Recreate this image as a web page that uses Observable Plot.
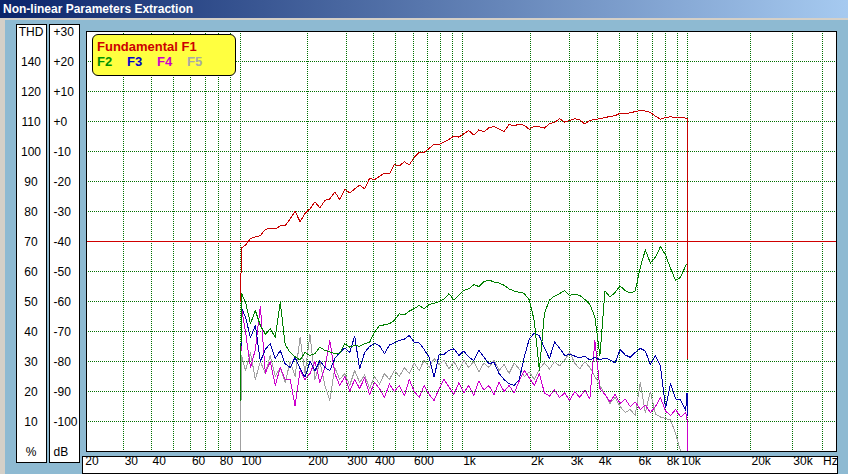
<!DOCTYPE html>
<html>
<head>
<meta charset="utf-8">
<script src="https://cdn.jsdelivr.net/npm/d3@7"></script>
<script src="https://cdn.jsdelivr.net/npm/@observablehq/plot@0.6"></script>
<style>
  body { margin: 0; }
  #win { position: relative; width: 848px; height: 474px; background: #8EBAD2; overflow: hidden; font-family: "Liberation Sans", Arial, sans-serif; }
  #title { position: absolute; left: 0; top: 0; width: 848px; height: 18px; line-height: 18px; padding-left: 3px; box-sizing: border-box;
    background: linear-gradient(to right, #0A246A, #A6CAF0); color: white; font-weight: bold; font-size: 12px; }
  .gray { position: absolute; background: #D4D0C8; }
  .box { position: absolute; background: white; border: 1px solid black; box-sizing: border-box; }
  #chart { position: absolute; left: 0; top: 20px; }
  #legend { position: absolute; left: 92px; top: 34px; width: 144px; height: 42px; box-sizing: border-box; background: #FFFF40;
    border: 1px solid black; border-radius: 6px; font-weight: bold; font-size: 13px; }
  #legend span { position: absolute; line-height: 13px; white-space: nowrap; }
</style>
</head>
<body>
<div id="win">
  <div id="title">Non-linear Parameters Extraction</div>
  <div class="gray" style="left:0;top:18px;width:848px;height:2px"></div>
  <div class="gray" style="left:0;top:18px;width:5px;height:456px"></div>
  <div class="box" style="left:16px;top:24px;width:31px;height:439px"></div>
  <div class="box" style="left:49px;top:24px;width:31px;height:439px"></div>
  <div class="box" style="left:82px;top:456px;width:756px;height:18px"></div>
  <div id="chart"></div>
  <div id="legend">
    <span style="left:4px;top:5px;color:#CC0000">Fundamental F1</span>
    <span style="left:4px;top:20px;color:#009000">F2</span>
    <span style="left:34px;top:20px;color:#0000CC">F3</span>
    <span style="left:64px;top:20px;color:#CC00CC">F4</span>
    <span style="left:94px;top:20px;color:#A8A8A8">F5</span>
  </div>
</div>
<script>
// frequencies (Hz) of the read points
const freq = [100, 101,
  105.3, 110.9, 116.7, 122.9, 129.4, 136.2, 143.5, 151.1, 159.0, 167.5,
  176.3, 185.6, 195.5, 205.8, 216.7, 228.2, 240.2, 252.9, 266.3, 280.4,
  295.3, 310.9, 327.3, 344.6, 362.9, 382.1, 402.3, 423.6, 446.0, 469.6,
  494.4, 520.6, 548.1, 577.1, 607.7, 639.8, 673.7, 709.3, 746.9, 786.4,
  828.0, 871.8, 917.9, 966.5, 1016, 1069, 1126, 1185, 1248, 1314,
  1384, 1457, 1534, 1615, 1701, 1791, 1886, 1985, 2090, 2201,
  2317, 2440, 2569, 2705, 2848, 2999, 3158, 3325, 3501, 3686,
  3881, 4086, 4302, 4530, 4770, 5022, 5288, 5568, 5862, 6173,
  6499, 6843, 7205, 7586, 7988, 8411, 8856, 9324, 9818,
  9950, 10000];

// levels in dB
const f1 = [-60, -42.2,
  -41.2, -39, -38.5, -38, -36, -35.5, -35.8, -34.8, -34.7, -32.5,
  -29.9, -33.4, -30.6, -29.1, -26.8, -28.8, -26.3, -25.8, -23.5, -26.0,
  -22.6, -23.8, -22.5, -21.2, -22.4, -19.0, -19.4, -18.3, -17.2, -17.5,
  -14.3, -14.8, -13.4, -14.5, -12.0, -10.2, -10.3, -9.0, -7.5, -7.6,
  -6.8, -6.0, -4.8, -5.2, -4.1, -3.0, -4.5, -2.8, -3.4, -2.1,
  -1.6, -2.5, -3.4, -1.0, -1.4, -0.9, -1.3, -2.6, -1.5, -1.8,
  -2.2, -0.7, -0.3, 0.9, -0.2, 0.4, 0.9, 0.5, -0.8, 0.4,
  0.6, 1.0, 1.3, 1.7, 1.9, 2.8, 2.5, 2.9, 3.3, 3.7,
  3.5, 3.0, 1.8, 0.8, 1.3, 1.6, 1.2, 1.4, 1.1,
  1.1, -79];

const f2 = [-93, -57.3,
  -60.2, -67.4, -63, -68, -71, -69, -72, -60.2, -74.3, -77,
  -78.4, -79.5, -77, -78, -77.4, -75.2, -76.3, -76.8, -77.4, -77.2,
  -74.1, -75.2, -74.7, -74.9, -74.1, -73.6, -70.2, -68, -67.8, -67.4,
  -66.3, -64.1, -64.5, -63.2, -62.4, -61.3, -62.4, -61.0, -60.6, -60.0,
  -59.2, -57.4, -59.5, -57.8, -56.3, -55.8, -54.4, -55, -53.4, -52.8,
  -53.5, -53.8, -54.6, -55.8, -56.5, -56.9, -57.3, -59.5, -66.5, -83,
  -64, -59.5, -58.2, -57.4, -56.3, -58, -57.5, -58, -59.3, -61,
  -65.2, -78, -56.5, -58.5, -57, -54.8, -56.4, -57.2, -56.5, -48.6,
  -42.8, -47.2, -45.2, -41.7, -44.5, -49, -53, -51.9, -48,
  -47.4, -78.6];

const f3 = [-90, -62,
  -65.2, -72, -68, -80, -76, -74, -79, -76.3, -80.8, -82,
  -78.6, -82.4, -85.2, -80, -83, -79.7, -82, -83, -79, -77,
  -75.5, -77, -71.5, -82.4, -77, -75, -74, -74.7, -77.4, -74.5,
  -73.8, -73, -72.6, -71.3, -73.5, -73.8, -76, -78.6, -85.2, -77.8,
  -77.6, -76.3, -75.8, -78, -76.5, -78.5, -79.7, -76.3, -78.5, -80.8,
  -80.2, -84, -86, -87.4, -88, -86, -78.5, -72.5, -70.5, -71.5,
  -75.5, -79, -73.5, -75.5, -78, -77.6, -78.2, -78.8, -78.2, -79.5,
  -78.6, -79.4, -78.8, -79.5, -80.5, -76, -77.8, -78.6, -77, -75.6,
  -76.5, -81, -78, -81.5, -95.5, -87.4, -92.5, -92.8, -96.3,
  -90.5, -98];

const f4 = [-93, -62,
  -70, -82, -76, -61.5, -84, -80, -88, -82, -86, -86,
  -94.8, -83, -86, -84, -80, -87, -82, -73, -84, -88,
  -85, -90, -86, -89, -85.5, -91, -87, -89, -92, -87.5,
  -90, -88, -91.5, -86, -90, -92, -88, -91, -93, -89,
  -86, -88.5, -91, -87, -90.5, -88, -91.5, -86.5, -89.5, -88,
  -91, -87, -90, -88, -90.5, -86.5, -83, -85.5, -88, -84,
  -90.5, -91.5, -89.5, -92, -90.5, -93, -90, -92, -89.5, -92.5,
  -73, -89, -91, -93.5, -91, -94, -92.5, -95, -93.5, -96,
  -94.5, -97, -95, -92, -96.5, -98, -96, -98.5, -97,
  -99.5, -110];

const f5 = [-110, -78,
  -83, -77, -86, -80, -84, -78, -85, -82, -87, -80,
  -85, -72, -84, -71, -86, -80, -88, -93, -82, -86,
  -84, -88, -83, -87, -84.5, -89, -85, -87.5, -84, -86,
  -83, -85, -82, -84, -80.5, -83, -79.5, -82, -79, -81,
  -79.5, -82.5, -80, -83, -79.5, -82, -80, -83.5, -80.5, -82,
  -79.5, -83, -81, -84, -80.5, -82.5, -85, -83.5, -86, -82.5,
  -80.5, -82.5, -80, -81.5, -79.5, -77, -80.5, -82.5, -80, -82,
  -85, -88, -91, -94, -92, -95, -97, -96, -98, -87,
  -97, -90, -97.5, -98.5, -99, -99.5, -104, -110, -110,
  -110, -110];

const seriesNames = ["F1", "F2", "F3", "F4", "F5"];
const seriesColors = ["#C80000", "#008000", "#0000A8", "#CC00CC", "#A0A0A0"];
const seriesValues = [f1, f2, f3, f4, f5];

const gridFreq = [30, 40, 50, 60, 70, 80, 90, 100, 200, 300, 400, 500, 600, 700, 800, 900,
  1000, 2000, 3000, 4000, 5000, 6000, 7000, 8000, 9000, 10000, 20000, 30000, 40000];
const gridDb = [20, 10, 0, -10, -20, -30, -40, -50, -60, -70, -80, -90, -100];

const xTicks = [20, 30, 40, 60, 80, 100, 200, 300, 400, 600, 1000, 2000, 3000, 4000, 6000, 8000, 10000, 20000, 30000, 40000];
const xLabels = ["20", "30", "40", "60", "80", "100", "200", "300", "400", "600", "1k", "2k", "3k", "4k", "6k", "8k", "10k", "20k", "30k", "Hz"];

const dbTicks = [30, 20, 10, 0, -10, -20, -30, -40, -50, -60, -70, -80, -90, -100, -110];
const thdLabels = ["THD", "140", "120", "110", "100", "90", "80", "70", "60", "50", "40", "30", "20", "10", "%"];
const dbLabels = ["+30", "+20", "+10", "+0", "-10", "-20", "-30", "-40", "-50", "-60", "-70", "-80", "-90", "-100", "dB"];

const grid = {stroke: "#007000", strokeDasharray: "1,1", shapeRendering: "crispEdges"};

// draw the harmonics first, fundamental last
const lineMarks = seriesNames.map((name, i) => {
  const rows = freq.map((f, j) => ({f: f, db: seriesValues[i][j]}));
  return Plot.line(rows, {x: "f", y: "db", stroke: seriesColors[i], strokeWidth: 1, shapeRendering: "crispEdges"});
}).reverse();

const tickText = {x: d => d, text: d => xLabels[xTicks.indexOf(d)], frameAnchor: "bottom", dy: 13, textAnchor: "start", fill: "black"};

let chart = Plot.plot({
  width: 848,
  height: 454,
  marginLeft: 86,
  marginRight: 12,
  marginTop: 11,
  marginBottom: 23,
  // the analyser's log axis is not quite uniform per decade
  x: {type: "log", domain: [20.46, 100, 1000, 10000, 20000, 46000], range: [86, 240, 461.7, 687, 750, 836], axis: null},
  y: {domain: [-110, 30], axis: null},
  style: {background: "transparent", fontFamily: "Liberation Sans, Arial, sans-serif", fontSize: "12px", color: "black", overflow: "visible"},
  marks: [
    Plot.frame({fill: "white", stroke: "none"}),
    Plot.ruleX(gridFreq, grid),
    Plot.ruleY(gridDb, grid),
    Plot.ruleY([-40], {stroke: "#D00000", shapeRendering: "crispEdges"}),
    ...lineMarks,
    Plot.frame({stroke: "black", shapeRendering: "crispEdges"}),
    Plot.text(dbTicks, {y: d => d, text: (d, i) => thdLabels[i], frameAnchor: "left", dx: -55.5, dy: 1, textAnchor: "middle", fill: "black"}),
    Plot.text(dbTicks, {y: d => d, text: (d, i) => dbLabels[i], frameAnchor: "left", dx: -33, dy: 1, textAnchor: "start", fill: "black"}),
    Plot.text(xTicks.filter(d => d !== 10000), {...tickText, dx: 1}),
    Plot.text([10000], {...tickText, dx: -6})
  ]
})
d3.select('#chart').append(() => chart)
</script>
</body>
</html>
